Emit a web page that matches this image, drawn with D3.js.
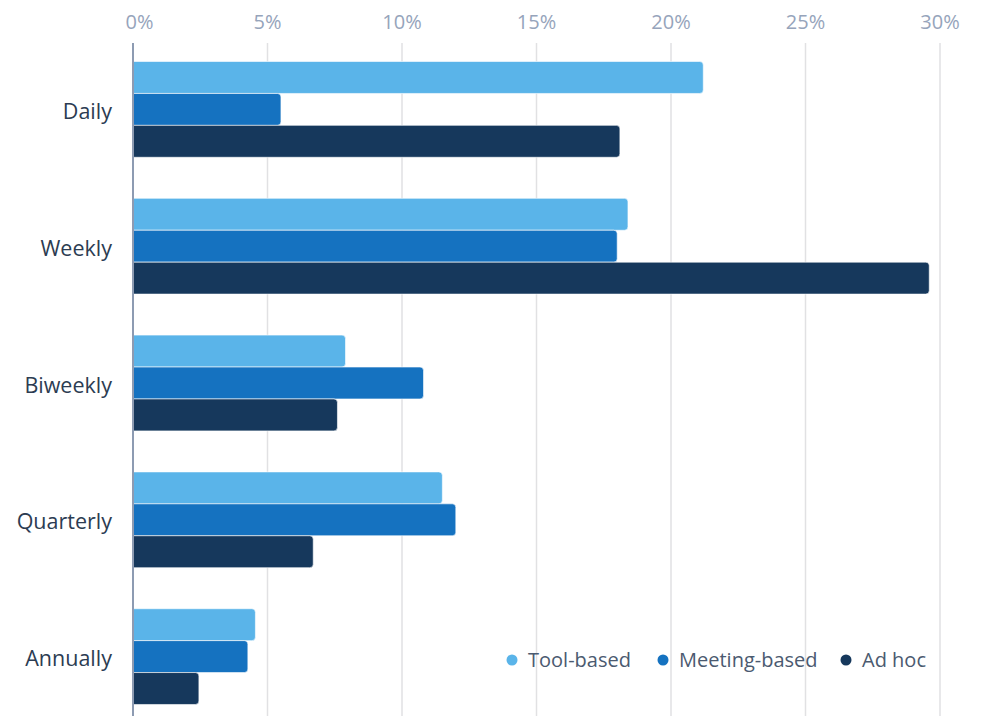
<!DOCTYPE html>
<html>
<head>
<meta charset="utf-8">
<script src="https://cdn.jsdelivr.net/npm/d3@7"></script>
<style>
  html, body { margin: 0; padding: 0; background: #ffffff; }
  svg { display: block; font-family: "Open Sans", "Noto Sans", sans-serif; }
</style>
</head>
<body>
<svg id="chart" width="984" height="716"></svg>
<script>
// Review frequency by review style (% of respondents)
const categories = ["Daily", "Weekly", "Biweekly", "Quarterly", "Annually"];
const seriesNames = ["Tool-based", "Meeting-based", "Ad hoc"];
const toolBased    = [21.2, 18.4, 7.9, 11.5, 4.55];
const meetingBased = [5.5, 18.0, 10.8, 12.0, 4.27];
const adHoc        = [18.1, 29.6, 7.6, 6.7, 2.45];
const xTicks = [0, 5, 10, 15, 20, 25, 30];
const colors = ["#5ab4e9", "#1572c0", "#16385c"];

const seriesValues = [toolBased, meetingBased, adHoc];
const rows = categories.map((c, i) => ({
  category: c,
  values: seriesNames.map((s, j) => ({ series: s, index: j, value: seriesValues[j][i] }))
}));

const svg = d3.select("#chart");
const margin = { left: 133, right: 44, top: 41 };
const width = 984;

const x = d3.scaleLinear().domain([0, 30]).range([margin.left, width - margin.right]);
const y = d3.scaleBand().domain(categories).range([margin.top, 725])
  .paddingInner(0.3).paddingOuter(0.15);
const ySub = d3.scaleBand().domain(seriesNames).range([0, y.bandwidth()]).padding(0);

// vertical gridlines
svg.append("g").selectAll("line").data(xTicks.slice(1)).join("line")
  .attr("x1", d => x(d)).attr("x2", d => x(d))
  .attr("y1", 43).attr("y2", 716)
  .attr("stroke", "#e1e1e3").attr("stroke-width", 1.5);

// top tick labels
svg.append("g").selectAll("text").data(xTicks).join("text")
  .attr("x", d => x(d) + (d === 0 ? 6.5 : 0))
  .attr("y", 29)
  .attr("text-anchor", "middle")
  .attr("font-size", 20)
  .attr("fill", "#96a4bb")
  .text(d => d + "%");

// bars: square at the baseline, rounded at the value end
function barPath(x0, x1, y0, h, r) {
  const rr = Math.min(r, (x1 - x0) / 2, h / 2);
  return `M${x0},${y0}H${x1 - rr}Q${x1},${y0} ${x1},${y0 + rr}` +
         `V${y0 + h - rr}Q${x1},${y0 + h} ${x1 - rr},${y0 + h}H${x0}Z`;
}

const groups = svg.append("g").selectAll("g").data(rows).join("g")
  .attr("transform", d => `translate(0,${y(d.category)})`);

groups.selectAll("path").data(d => d.values).join("path")
  .attr("d", d => barPath(x(0), x(d.value), ySub(d.series), ySub.bandwidth(), 3.5))
  .attr("fill", d => colors[d.index])
  .attr("stroke", "#ffffff")
  .attr("stroke-opacity", 0.6)
  .attr("stroke-width", 1);

// category labels
svg.append("g").selectAll("text").data(categories).join("text")
  .attr("x", 112)
  .attr("y", d => y(d) + y.bandwidth() / 2 + 2)
  .attr("dy", "0.35em")
  .attr("text-anchor", "end")
  .attr("font-size", 21.5)
  .attr("fill", "#2c3c52")
  .text(d => d);

// baseline axis
svg.append("line")
  .attr("x1", x(0)).attr("x2", x(0))
  .attr("y1", 43).attr("y2", 716)
  .attr("stroke", "#8d9bb2").attr("stroke-width", 2);

// legend
const legendX = [512, 663, 846];
const legend = svg.append("g").selectAll("g").data(seriesNames).join("g")
  .attr("transform", (d, i) => `translate(${legendX[i]},660)`);
legend.append("circle").attr("r", 5.5).attr("fill", (d, i) => colors[i]);
legend.append("text")
  .attr("x", 16).attr("dy", "0.35em")
  .attr("font-size", 20)
  .attr("fill", "#4b5a70")
  .text(d => d);
</script>
</body>
</html>
